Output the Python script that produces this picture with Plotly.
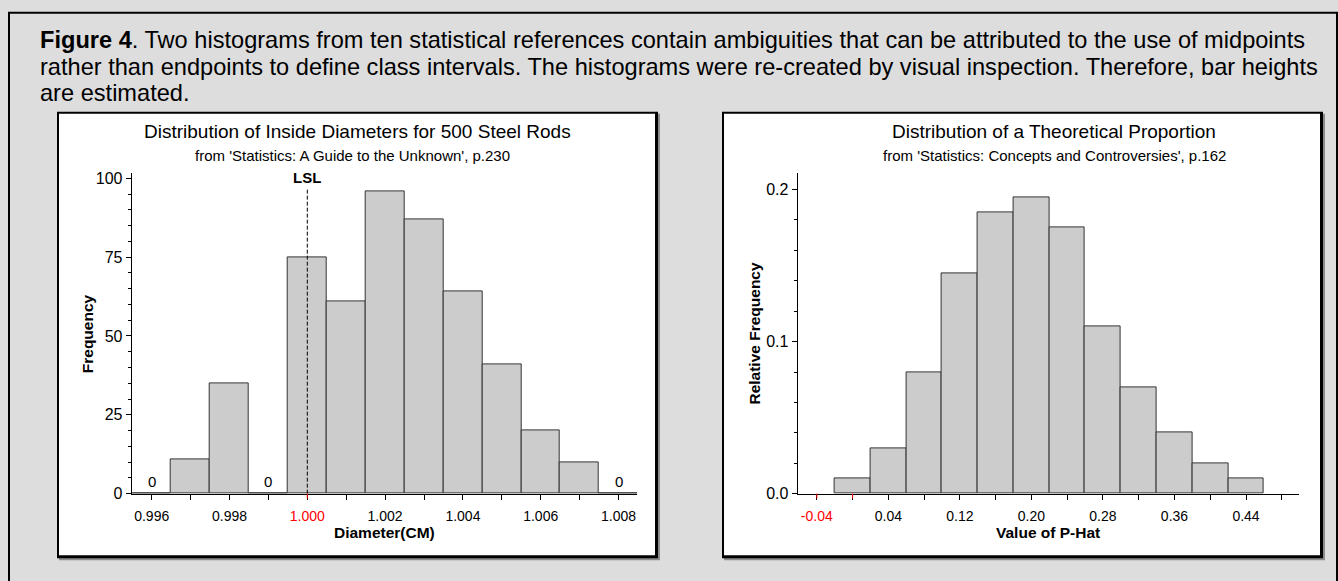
import plotly.graph_objects as go

# ---- data ----------------------------------------------------------------
diam_mid = [0.996, 0.997, 0.998, 0.999, 1.000, 1.001, 1.002, 1.003, 1.004,
            1.005, 1.006, 1.007, 1.008]
diam_count = [0, 11, 35, 0, 75, 61, 96, 87, 64, 41, 20, 10, 0]
diam_width = 0.001
diam_tickvals = diam_mid
diam_ticktext = ["0.996", "", "0.998", "", "1.000", "", "1.002", "", "1.004",
                 "", "1.006", "", "1.008"]
lsl_value = 1.000
lsl_top = 97

phat_mid = [0.00, 0.04, 0.08, 0.12, 0.16, 0.20, 0.24, 0.28, 0.32, 0.36, 0.40, 0.44]
phat_relfreq = [0.01, 0.03, 0.08, 0.145, 0.185, 0.195, 0.175, 0.11, 0.07, 0.04, 0.02, 0.01]
phat_width = 0.04
phat_tickvals = [-0.04, 0.00, 0.04, 0.08, 0.12, 0.16, 0.20, 0.24, 0.28, 0.32,
                 0.36, 0.40, 0.44, 0.48]
phat_ticktext = ["-0.04", "", "0.04", "", "0.12", "", "0.20", "", "0.28", "",
                 "0.36", "", "0.44", ""]
phat_red_ticks = [-0.04, 0.00]

caption_lines = [
    "<b>Figure 4</b>. Two histograms from ten statistical references contain "
    "ambiguities that can be attributed to the use of midpoints",
    "rather than endpoints to define class intervals. The histograms were "
    "re-created by visual inspection. Therefore, bar heights",
    "are estimated.",
]

# ---- page geometry (pixels) ----------------------------------------------
W, H = 1338, 581
FONT = "Liberation Sans, Arial, Helvetica, sans-serif"
BG = "#dddddd"
BAR_FILL = "#cccccc"
BAR_EDGE = "#333333"


def px(x):
    return x / W


def py(y):
    return 1 - y / H


PLOT_TOP, PLOT_BOT = 174, 501
L_X0, L_X1 = 131.7, 637.3
R_X0, R_X1 = 797.6, 1299.3

fig = go.Figure()

fig.add_trace(go.Bar(
    x=diam_mid, y=diam_count, width=diam_width,
    marker=dict(color=BAR_FILL, line=dict(color=BAR_EDGE, width=1)),
    xaxis="x", yaxis="y", showlegend=False, hoverinfo="x+y",
))
fig.add_trace(go.Bar(
    x=phat_mid, y=phat_relfreq, width=phat_width,
    marker=dict(color=BAR_FILL, line=dict(color=BAR_EDGE, width=1)),
    xaxis="x2", yaxis="y2", showlegend=False, hoverinfo="x+y",
))


def red_label(t, red):
    return f"<span style='color:#ff0000'>{t}</span>" if red else t


left_ticktext = [red_label(t, v == lsl_value) for v, t in zip(diam_tickvals, diam_ticktext)]
right_ticktext = [red_label(t, v in phat_red_ticks) for v, t in zip(phat_tickvals, phat_ticktext)]

xcommon = dict(showline=True, linecolor="black", linewidth=1, ticks="outside",
               ticklen=5, tickcolor="black", tickwidth=1, showgrid=False,
               zeroline=False, tickfont=dict(family=FONT, size=14, color="black"),
               ticklabelstandoff=5, fixedrange=True)
ycommon = dict(showline=True, linecolor="black", linewidth=1, ticks="outside",
               ticklen=5, tickcolor="black", tickwidth=1, showgrid=False,
               zeroline=False, tickfont=dict(family=FONT, size=16, color="black"),
               fixedrange=True)

ydom = [py(PLOT_BOT), py(PLOT_TOP)]

fig.update_layout(
    width=W, height=H, margin=dict(l=0, r=0, t=0, b=0),
    paper_bgcolor=BG, plot_bgcolor="rgba(0,0,0,0)",
    bargap=0, showlegend=False,
    font=dict(family=FONT, color="black"),
    xaxis=dict(domain=[px(L_X0), px(L_X1)], range=[0.995486, 1.008483],
               tickvals=diam_tickvals, ticktext=left_ticktext, anchor="y", **xcommon),
    yaxis=dict(domain=ydom, range=[0, 101.55], tickvals=[0, 25, 50, 75, 100],
               minor=dict(dtick=5, ticklen=3, ticks="outside", tickcolor="black"),
               anchor="x", **ycommon),
    xaxis2=dict(domain=[px(R_X0), px(R_X1)], range=[-0.0615, 0.4996],
                tickvals=phat_tickvals, ticktext=right_ticktext, anchor="y2", **xcommon),
    yaxis2=dict(domain=ydom, range=[0, 0.2106], tickvals=[0.0, 0.1, 0.2],
                ticktext=["0.0", "0.1", "0.2"],
                minor=dict(dtick=0.02, ticklen=3, ticks="outside", tickcolor="black"),
                anchor="x2", **ycommon),
)

shapes = []

# outer frame of the figure
shapes.append(dict(type="rect", xref="paper", yref="paper", layer="below",
                   x0=px(8), x1=px(1338), y0=py(600), y1=py(9),
                   fillcolor="black", line=dict(width=0)))
shapes.append(dict(type="rect", xref="paper", yref="paper", layer="below",
                   x0=px(10), x1=px(1336), y0=py(600), y1=py(11),
                   fillcolor=BG, line=dict(width=0)))

# two white panels with a drop shadow
for dx in (0, 665):
    x0, y0, x1, y1 = 57 + dx, 111, 658 + dx, 567
    shapes.append(dict(type="rect", xref="paper", yref="paper", layer="below",
                       x0=px(x0 + 2), x1=px(x1 + 2), y0=py(y1 + 2), y1=py(y0 + 2),
                       fillcolor="#8c8c8c", line=dict(width=0)))
    shapes.append(dict(type="rect", xref="paper", yref="paper", layer="below",
                       x0=px(x0), x1=px(x1), y0=py(y1), y1=py(y0),
                       fillcolor="black", line=dict(width=0)))
    shapes.append(dict(type="rect", xref="paper", yref="paper", layer="below",
                       x0=px(x0 + 2), x1=px(x1 - 3), y0=py(y1 - 3), y1=py(y0 + 2),
                       fillcolor="white", line=dict(width=0)))

# lower specification limit
shapes.append(dict(type="line", xref="x", yref="y", x0=lsl_value, x1=lsl_value,
                   y0=0, y1=lsl_top, line=dict(color="black", width=1, dash="4px,2px")))

# red tick marks
shapes.append(dict(type="line", xref="x", yref="paper", x0=lsl_value, x1=lsl_value,
                   y0=py(PLOT_BOT), y1=py(PLOT_BOT + 5), line=dict(color="red", width=1)))
for v in phat_red_ticks:
    shapes.append(dict(type="line", xref="x2", yref="paper", x0=v, x1=v,
                       y0=py(PLOT_BOT), y1=py(PLOT_BOT + 5), line=dict(color="red", width=1)))

fig.update_layout(shapes=shapes)

ann = []


def text_at(x, y, text, size, bold=False, xanchor="center", angle=0, **kw):
    t = f"<b>{text}</b>" if bold else text
    ann.append(dict(x=px(x), y=py(y), xref="paper", yref="paper", text=t,
                    showarrow=False, xanchor=xanchor, yanchor="middle",
                    textangle=angle, font=dict(family=FONT, size=size, color="black"), **kw))


# caption
for i, line in enumerate(caption_lines):
    text_at(38, 38 + 27 * i, line, 23.6, xanchor="left")

# chart titles
text_at(357, 131, "Distribution of Inside Diameters for 500 Steel Rods", 19)
text_at(352, 156, "from 'Statistics: A Guide to the Unknown', p.230", 15)
text_at(1054, 131, "Distribution of a Theoretical Proportion", 19)
text_at(1054, 156, "from 'Statistics: Concepts and Controversies', p.162", 15)

# axis titles
text_at(87.7, 337.5, "Frequency", 15.5, bold=True, angle=-90)
text_at((L_X0 + L_X1) / 2, 541, "Diameter(CM)", 15.5, bold=True)
text_at(755, 337.5, "Relative Frequency", 15.5, bold=True, angle=-90)
text_at((R_X0 + R_X1) / 2, 541, "Value of P-Hat", 15.5, bold=True)

fig.update_layout(annotations=ann)

# "0" over empty classes and the LSL label
for xm, c in zip(diam_mid, diam_count):
    if c == 0:
        fig.add_annotation(x=xm, y=c, xref="x", yref="y", text=str(c), showarrow=False,
                           yanchor="bottom", yshift=2,
                           font=dict(family=FONT, size=15, color="black"))
fig.add_annotation(x=lsl_value, y=lsl_top, xref="x", yref="y", text="<b>LSL</b>",
                   showarrow=False, yanchor="bottom", yshift=0,
                   font=dict(family=FONT, size=15, color="black"))

fig.write_html("out.html")
